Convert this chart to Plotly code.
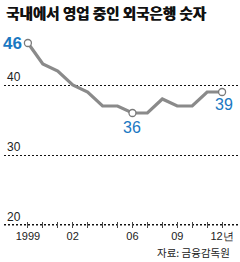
import plotly.graph_objects as go

years = list(range(1999, 2013))
values = [46, 43, 42, 40, 39, 37, 37, 36, 36, 38, 37, 37, 39, 39]
tick_text = ["1999", "", "", "02", "", "", "", "06", "", "", "09", "", "", "12년"]
y_ticks = [20, 30, 40]
marked_years = [1999, 2006, 2012]
marked_values = [46, 36, 39]

NARROW = "Liberation Sans Narrow, Arial Narrow, Liberation Sans, sans-serif"
BLUE = "#1a78c2"
X_RANGE = [1997.4, 2013.2]
Y_RANGE = [19.57, 47.86]

fig = go.Figure()
# baseline at the lowest y tick
fig.add_trace(go.Scatter(
    x=X_RANGE, y=[y_ticks[0]] * 2, mode="lines",
    line=dict(color="#111", width=1, dash="2px,2px"),
    hoverinfo="skip", showlegend=False, cliponaxis=False,
))
fig.add_trace(go.Scatter(
    x=years, y=values, mode="lines",
    line=dict(color="#8a8a8a", width=3.2),
    hoverinfo="skip", showlegend=False,
))
fig.add_trace(go.Scatter(
    x=marked_years, y=marked_values, mode="markers",
    marker=dict(symbol="circle", size=7, color="white",
                line=dict(color="#7a7a7a", width=1.3)),
    hoverinfo="skip", showlegend=False,
))

# value labels
fig.add_annotation(x=1999, y=46, text="46", showarrow=False, xshift=-15, yshift=0,
                   font=dict(family=NARROW, size=17, color=BLUE, weight=700))
fig.add_annotation(x=2006, y=36, text="36", showarrow=False, xshift=0, yshift=-14,
                   font=dict(family=NARROW, size=16, color=BLUE))
fig.add_annotation(x=2012, y=39, text="39", showarrow=False, xshift=2, yshift=-12,
                   font=dict(family=NARROW, size=16, color=BLUE))

fig.update_layout(
    width=240, height=262,
    margin=dict(l=4, r=0, t=30, b=34),
    paper_bgcolor="white", plot_bgcolor="white",
    title=dict(text="<b>국내에서 영업 중인 외국은행 숫자</b>", x=0.025, xanchor="left",
               y=0.965, yanchor="top",
               font=dict(family="Noto Sans CJK KR", size=14.5, color="#111",
                         weight="bold", shadow="0.6px 0px 0px #111")),
    xaxis=dict(
        range=X_RANGE,
        tickvals=years, ticktext=tick_text,
        ticks="inside", ticklen=6, tickwidth=1, tickcolor="#444",
        showgrid=False, zeroline=False, showline=False,
        tickfont=dict(family=NARROW, size=11, color="#222"),
        fixedrange=True,
    ),
    yaxis=dict(
        range=Y_RANGE,
        tickvals=y_ticks, ticktext=[str(v) for v in y_ticks],
        ticklabelposition="inside top",
        showgrid=True, gridcolor="#111", griddash="2px,2px", gridwidth=1,
        zeroline=False, showline=False, ticks="",
        tickfont=dict(family=NARROW, size=12, color="#222"),
        fixedrange=True,
    ),
)

fig.add_annotation(text="자료: 금융감독원", xref="paper", yref="paper",
                   x=1.0, y=0, xanchor="right", yanchor="top", yshift=-15, xshift=-8,
                   showarrow=False,
                   font=dict(family="Noto Sans CJK KR", size=10.5, color="#222"))

fig.write_html("out.html")
